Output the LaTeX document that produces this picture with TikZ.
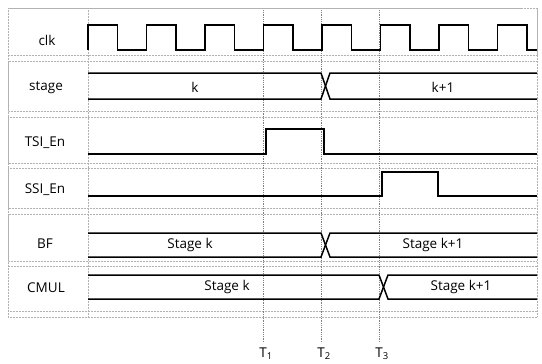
\documentclass[tikz,border=0pt]{standalone}
\usepackage{fontspec}
\setmainfont{Open Sans}
\usetikzlibrary{positioning, calc}

\begin{document}
\begin{tikzpicture}[x=1pt, y=-1pt,
    grid/.style={gray!60, densely dotted, line width=0.5pt},
    wave/.style={black, line width=1.5pt, line join=miter},
    sig/.style={font=\fontsize{13.5}{15}\selectfont, inner sep=1pt},
    tline/.style={gray, densely dotted, line width=0.8pt}]
    \useasboundingbox (0,0) rectangle (542,364);
    % Row frames
    \draw[grid] (8,8) rectangle (537,317);
    \foreach \rtop/\rbot in {8/55, 61/111, 117/163, 168/208, 214/261, 266/311} {
        \draw[grid] (8,\rtop) rectangle (537,\rbot);
    }
    \draw[grid] (88,8) -- (88,317);
    % Signal names
    \node[sig] (clk) at (47,40) {clk};
    \node[sig] (stage) at (46,88) {stage};
    \node[sig] (tsi) at (45,143) {TSI\_En};
    \node[sig] (ssi) at (45,190) {SSI\_En};
    \node[sig] (bf) at (45,244) {BF};
    \node[sig] (cmul) at (46,288) {CMUL};
    % Time markers
    \foreach \t/\x in {1/263, 2/321, 3/379} {
        \coordinate (T\t top) at (\x,10);
        \coordinate (T\t bot) at (\x,342);
        \draw[tline] (T\t top) -- (T\t bot);
        \node[sig, below=5pt of T\t bot, xshift=3pt] (T\t) {T\textsubscript{\t}};
    }
    % Clock
    \draw[wave] (88,50) \foreach \i in {0,...,6} {
        -- ++(0,-25) -- ++(29.25,0) -- ++(0,25) -- ++(29.25,0)}
        -- ++(0,-25) -- ++(29.25,0) -- ++(0,25) -- (537,50);
    % stage bus
    \draw[wave] (88,73) -- (321,73) -- (330,99) -- (537,99);
    \draw[wave] (88,99) -- (321,99) -- (330,73) -- (537,73);
    \node[sig] (stk) at (195,87) {k};
    \node[sig] (stk1) at (443,87) {k+1};
    % TSI_En
    \draw[wave] (88,154) -- (T1 |- 0,154) -- (T1 |- 0,129) -- (T2 |- 0,129)
        -- (T2 |- 0,154) -- (537,154);
    % SSI_En
    \draw[wave] (88,196) -- (T3 |- 0,196) -- (T3 |- 0,172) -- (438,172)
        -- (438,196) -- (537,196);
    % BF bus
    \draw[wave] (88,233) -- (321,233) -- (330,257) -- (537,257);
    \draw[wave] (88,257) -- (321,257) -- (330,233) -- (537,233);
    \node[sig] (bfk) at (190,245) {Stage k};
    \node[sig] (bfk1) at (433,245) {Stage k+1};
    % CMUL bus
    \draw[wave] (88,275) -- (379,275) -- (388,299) -- (537,299);
    \draw[wave] (88,299) -- (379,299) -- (388,275) -- (537,275);
    \node[sig] (cmk) at (227,287) {Stage k};
    \node[sig] (cmk1) at (461,287) {Stage k+1};
\end{tikzpicture}
\end{document}
